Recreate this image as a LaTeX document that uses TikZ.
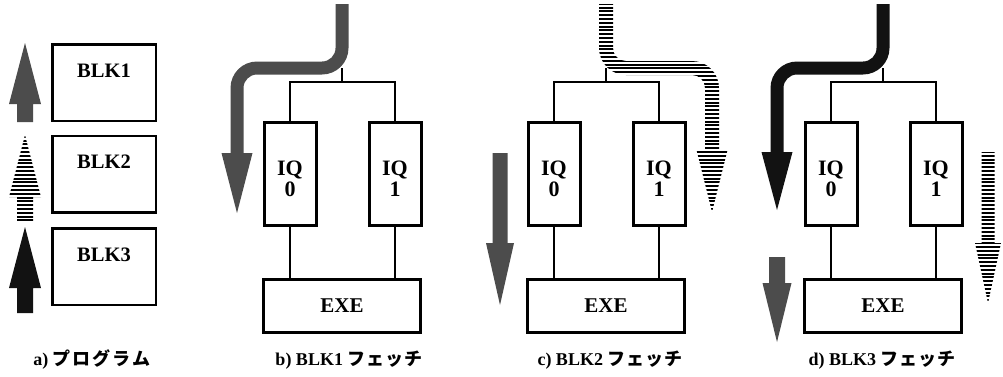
\documentclass[tikz,border=0pt]{standalone}
\usepackage{fontspec}
\setmainfont{Liberation Serif}
\newfontfamily\jpfont{Noto Sans CJK JP}
\tikzset{
  blkbox/.style={draw, line width=2.5pt, minimum width=103.5pt, minimum height=76.5pt,
    inner sep=0pt, font=\fontsize{20.5}{21}\selectfont\bfseries, text height=15pt, text depth=26pt},
  iqbox/.style={draw, line width=3pt, minimum width=52pt, minimum height=103pt, inner sep=0pt},
  iqtext/.style={font=\fontsize{22}{21}\selectfont\bfseries, align=center, inner sep=0pt},
  exebox/.style={draw, line width=3pt, minimum width=157pt, minimum height=53pt,
    inner sep=0pt, font=\fontsize{21}{21}\selectfont\bfseries},
  wire/.style={line width=1.3pt},
  caption/.style={font=\fontsize{18}{18}\selectfont\bfseries, inner sep=0pt},
  fillA/.style={fill=black!70},
  fillB/.style={path picture={\foreach \yy in {0,3.8,...,380}
      \draw[line width=2.1pt] (-10,\yy) -- (1013,\yy);}},
  fillC/.style={fill=black!93},
}
\newcommand\jpk[1]{{\jpfont\bfseries #1}}
% straight vertical arrow: style, x, ytail, ybase, ytip, shaft half width, head half width
\newcommand\straightarrow[7]{%
  \path[#1] ({#2-#6},#3) -- ({#2-#6},#4) -- ({#2-#7},#4) -- (#2,#5) --
    ({#2+#7},#4) -- ({#2+#6},#4) -- ({#2+#6},#3) -- cycle;}
% bent arrow: style, X1, X2, Yh, Ybase, Ytip, half width, head half width, sign
\newcommand\bentarrow[9]{%
  \pgfmathsetmacro\ax{#2-#9*#7}%
  \pgfmathsetmacro\bx{#2+#9*#7}%
  \pgfmathsetmacro\cx{#2+#9*20}%
  \pgfmathsetmacro\dx{#3-#9*20}%
  \pgfmathsetmacro\ex{#3-#9*#7}%
  \pgfmathsetmacro\fx{#3+#9*#7}%
  \pgfmathsetmacro\yo{#4+#7}%
  \pgfmathsetmacro\yi{#4-#7}%
  \pgfmathsetmacro\ya{#4-20}%
  \pgfmathsetmacro\yb{#4+20}%
  \pgfmathsetmacro\kR{0.5523*(20+#7)}%
  \pgfmathsetmacro\kr{0.5523*(20-#7)}%
  \pgfmathsetmacro\hA{#3-#9*#8}%
  \pgfmathsetmacro\hB{#3+#9*#8}%
  \pgfmathsetmacro\cA{\cx-#9*\kR}%
  \pgfmathsetmacro\cB{\dx+#9*\kr}%
  \pgfmathsetmacro\cC{\dx+#9*\kR}%
  \pgfmathsetmacro\cD{\cx-#9*\kr}%
  \path[#1] (\ax,4) -- (\ax,\ya) .. controls (\ax,{\ya+\kR}) and (\cA,\yo) .. (\cx,\yo)
    -- (\dx,\yo) .. controls (\cB,\yo) and (\ex,{\yb-\kr}) .. (\ex,\yb)
    -- (\ex,#5) -- (\hA,#5) -- (#3,#6) -- (\hB,#5) -- (\fx,#5) -- (\fx,\yb)
    .. controls (\fx,{\yb-\kR}) and (\cC,\yi) .. (\dx,\yi)
    -- (\cx,\yi) .. controls (\cD,\yi) and (\bx,{\ya+\kr}) .. (\bx,\ya)
    -- (\bx,4) -- cycle;}
\begin{document}
\begin{tikzpicture}[x=1pt,y=-1pt]
\fill[white] (0,0) rectangle (1003,376);
\useasboundingbox (0,0) rectangle (1003,376);

% ---- a) program
\node[blkbox] (blk1) at (104,82.5) {BLK1};
\node[blkbox] (blk2) at (104,174) {BLK2};
\node[blkbox] (blk3) at (104,266.5) {BLK3};
\straightarrow{fillA}{25}{122}{104}{43}{8}{16}
\straightarrow{fillB}{25}{222}{197}{135}{8}{16}
\straightarrow{fillC}{25}{313}{288}{227}{8}{16}
\node[caption] (capa) at (92,360) {a) \jpk{プ\hspace{2pt}ロ\hspace{2pt}グ\hspace{2pt}ラ\hspace{2pt}ム}};

% ---- panels b, c, d
\foreach \P/\n in {262/b,526/c,803/d}{
  \node[iqbox] (\n0) at (\P+28,174) {};
  \node[iqbox] (\n1) at (\P+133,174) {};
  \node[iqtext] (\n0t) at ([yshift=-4.5pt]\n0.center) {IQ\\0};
  \node[iqtext] (\n1t) at ([yshift=-4.5pt]\n1.center) {IQ\\1};
  \node[exebox] (\n e) at (\P+80,306) {EXE};
  \coordinate (\n j) at (\P+80,82);
  \coordinate (\n t) at (\P+80,68);
  \draw[wire] (\n0.north) |- (\n j) -| (\n1.north);
  \draw[wire] (\n j) -- (\n t);
  \draw[wire] (\n0.south) -- (\n0.south |- \n e.north);
  \draw[wire] (\n1.south) -- (\n1.south |- \n e.north);
}

% b) BLK1 fetch
\bentarrow{fillA}{342}{237}{68}{153}{213}{6.5}{15.5}{-1}
\node[caption] (capb) at (349,360) {b) BLK1 \jpk{フ\hspace{1pt}ェ\hspace{1pt}ッ\hspace{1pt}チ}};

% c) BLK2 fetch
\bentarrow{fillB}{606}{712}{68}{150}{212}{7}{15.5}{1}
\straightarrow{fillA}{500}{153}{243}{305}{7.5}{14}
\node[caption] (capc) at (610,360) {c) BLK2 \jpk{フ\hspace{1pt}ェ\hspace{1pt}ッ\hspace{1pt}チ}};

% d) BLK3 fetch
\bentarrow{fillC}{883}{777}{68}{152}{210}{6.5}{15.5}{-1}
\straightarrow{fillA}{777}{257}{283}{342}{8}{14.5}
\straightarrow{fillB}{988}{152}{243}{303}{6.5}{13}
\node[caption] (capd) at (882,360) {d) BLK3 \jpk{フ\hspace{1pt}ェ\hspace{1pt}ッ\hspace{1pt}チ}};
\end{tikzpicture}
\end{document}
